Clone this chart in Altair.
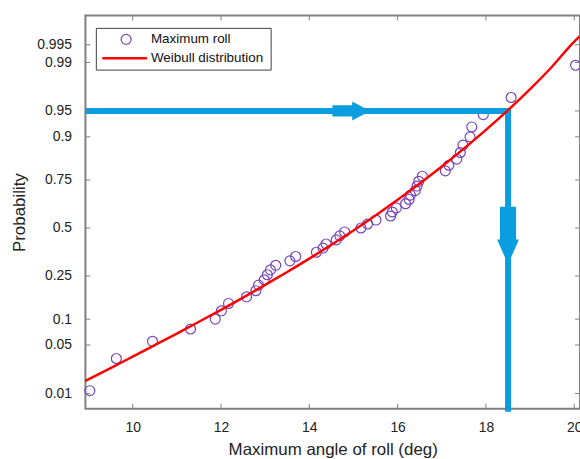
import altair as alt
import pandas as pd
from statistics import NormalDist

# ---- data ----
roll_deg = [9.03, 9.63, 10.45, 11.31, 11.87, 12.01, 12.17, 12.58, 12.79, 12.85,
            12.98, 13.05, 13.12, 13.24, 13.56, 13.69, 14.16, 14.31, 14.38, 14.61,
            14.69, 14.80, 15.17, 15.32, 15.51, 15.84, 15.88, 15.97, 16.18, 16.26,
            16.29, 16.40, 16.44, 16.48, 16.56, 17.08, 17.16, 17.34, 17.42, 17.48,
            17.64, 17.68, 17.94, 18.57, 20.03]
roll_prob = [0.0111, 0.0333, 0.0556, 0.0778, 0.1000, 0.1222, 0.1444, 0.1667, 0.1889, 0.2111,
             0.2333, 0.2556, 0.2778, 0.3000, 0.3222, 0.3444, 0.3667, 0.3889, 0.4111, 0.4333,
             0.4556, 0.4778, 0.5000, 0.5222, 0.5444, 0.5667, 0.5889, 0.6111, 0.6333, 0.6556,
             0.6778, 0.7000, 0.7222, 0.7444, 0.7667, 0.7889, 0.8111, 0.8333, 0.8556, 0.8778,
             0.9000, 0.9222, 0.9444, 0.9667, 0.9889]

fit_deg = [8.93, 9.5, 10, 10.5, 11, 11.5, 12, 12.5, 13, 13.5, 14, 14.5, 15, 15.5,
           16, 16.5, 17, 17.5, 18, 18.5, 19, 19.5, 20, 20.13]
fit_prob = [0.0158, 0.0245, 0.0353, 0.0498, 0.0689, 0.0937, 0.1251, 0.1641, 0.2117, 0.2682,
            0.3333, 0.4067, 0.4864, 0.5699, 0.6537, 0.7338, 0.8062, 0.8676, 0.9160, 0.9512,
            0.9745, 0.9884, 0.9956, 0.9965]

prob_ticks = [0.01, 0.05, 0.1, 0.25, 0.5, 0.75, 0.9, 0.95, 0.99, 0.995]
prob_labels = ["0.01", "0.05", "0.1", "0.25", "0.5", "0.75", "0.9", "0.95", "0.99", "0.995"]
deg_ticks = [10, 12, 14, 16, 18, 20]

marker_deg = 18.5
marker_prob = 0.95
h_arrow = {"deg": 14.95, "prob": 0.95}
v_arrow = {"deg": 18.5, "prob": 0.458}

legend_labels = ["Maximum roll", "Weibull distribution"]

# ---- styling / layout ----
PURPLE = "#7446b8"
RED = "#ff0000"
BLUE = "#0a9ee0"
GRAY = "#808080"
FONT = "Liberation Sans"
W, H = 498, 396
X_DOM = [8.93, 20.13]
Y_DOM = [-2.541, 2.987]

nd = NormalDist()
z_ticks = [nd.inv_cdf(p) for p in prob_ticks]
label_expr = ""
for zv, lab in zip(z_ticks, prob_labels):
    label_expr += f"abs(datum.value - ({zv:.6f})) < 0.0001 ? '{lab}' : "
label_expr += "''"

xs = alt.Scale(domain=X_DOM, nice=False, zero=False)
ys = alt.Scale(domain=Y_DOM, nice=False, zero=False)
X_AX = alt.Axis(values=deg_ticks, format="d", title="Maximum angle of roll (deg)",
                labelPadding=12, titlePadding=7, labelFlush=False, labelOverlap=False)
Y_AX = alt.Axis(values=z_ticks, labelExpr=label_expr, title="Probability",
                labelPadding=14, titlePadding=8, labelOverlap=False, labelFlush=False)


def X(f):
    return alt.X(f, scale=xs, axis=X_AX)


def Y(f):
    return alt.Y(f, scale=ys, axis=Y_AX)


pts_df = pd.DataFrame({"deg": roll_deg, "prob": roll_prob})
fit_df = pd.DataFrame({"deg": fit_deg, "prob": fit_prob})

zcalc = "quantileNormal(datum.prob)"

points = alt.Chart(pts_df).transform_calculate(z=zcalc).mark_point(
    shape="circle", filled=False, size=100, color=PURPLE, strokeWidth=1.2, opacity=1
).encode(x=X("deg:Q"), y=Y("z:Q"))

h_line = alt.Chart(pd.DataFrame({"deg": [X_DOM[0]], "deg2": [marker_deg], "prob": [marker_prob]})
                   ).transform_calculate(z=zcalc).mark_rule(
    color=BLUE, strokeWidth=6, strokeCap="butt"
).encode(x=X("deg:Q"), x2="deg2:Q", y=Y("z:Q"))

v_line = alt.Chart(pd.DataFrame({"deg": [marker_deg], "prob": [marker_prob], "zb": [Y_DOM[0]]})
                   ).transform_calculate(z=zcalc).mark_rule(
    color=BLUE, strokeWidth=6, strokeCap="square"
).encode(x=X("deg:Q"), y=Y("z:Q"), y2="zb:Q")

fit_line = alt.Chart(fit_df).transform_calculate(z=zcalc).mark_line(
    color=RED, strokeWidth=2.5, interpolate="monotone"
).encode(x=X("deg:Q"), y=Y("z:Q"))

h_arrow_mark = alt.Chart(pd.DataFrame([h_arrow])).transform_calculate(z=zcalc).mark_point(
    shape="M-1,-0.3L0.05,-0.3L0.05,-0.5L1,0L0.05,0.5L0.05,0.3L-1,0.3Z",
    filled=True, size=1444, color=BLUE, opacity=1, strokeWidth=0
).encode(x=X("deg:Q"), y=Y("z:Q"))

v_arrow_mark = alt.Chart(pd.DataFrame([v_arrow])).transform_calculate(z=zcalc).mark_point(
    shape="M-0.28,-1L0.28,-1L0.28,0.14L0.38,0.14L0,1L-0.38,0.14L-0.28,0.14Z",
    filled=True, size=3364, color=BLUE, opacity=1, strokeWidth=0
).encode(x=X("deg:Q"), y=Y("z:Q"))

# ticks pointing inward
xt_df = pd.DataFrame({"deg": deg_ticks})
yt_df = pd.DataFrame({"z": z_ticks})
xt_bottom = alt.Chart(xt_df).mark_rule(color=GRAY, strokeWidth=1).encode(
    x=X("deg:Q"), y=alt.value(H), y2=alt.value(H - 5))
xt_top = alt.Chart(xt_df).mark_rule(color=GRAY, strokeWidth=1).encode(
    x=X("deg:Q"), y=alt.value(0), y2=alt.value(5))
yt_left = alt.Chart(yt_df).mark_rule(color=GRAY, strokeWidth=1).encode(
    y=Y("z:Q"), x=alt.value(0), x2=alt.value(5))
yt_right = alt.Chart(yt_df).mark_rule(color=GRAY, strokeWidth=1).encode(
    y=Y("z:Q"), x=alt.value(W - 5), x2=alt.value(W))

# legend box
one = alt.Data(values=[{"k": 1}])
leg_box = alt.Chart(one).mark_rect(fill="white", stroke="#404040", strokeWidth=1).encode(
    x=alt.value(11), x2=alt.value(187), y=alt.value(13), y2=alt.value(55))
leg_pt = alt.Chart(one).mark_point(shape="circle", filled=False, size=100, color=PURPLE,
                                   strokeWidth=1.2, opacity=1).encode(
    x=alt.value(41), y=alt.value(24))
leg_ln = alt.Chart(one).mark_rule(color=RED, strokeWidth=2.5).encode(
    x=alt.value(17), x2=alt.value(62), y=alt.value(43))
leg_t1 = alt.Chart(one).mark_text(align="left", baseline="middle", font=FONT, fontSize=13.5,
                                  color="#111").encode(
    x=alt.value(66), y=alt.value(24), text=alt.value(legend_labels[0]))
leg_t2 = alt.Chart(one).mark_text(align="left", baseline="middle", font=FONT, fontSize=13.5,
                                  color="#111").encode(
    x=alt.value(66), y=alt.value(43), text=alt.value(legend_labels[1]))

chart = alt.layer(
    points, h_line, v_line, fit_line, h_arrow_mark, v_arrow_mark,
    xt_bottom, xt_top, yt_left, yt_right,
    leg_box, leg_pt, leg_ln, leg_t1, leg_t2
).properties(
    width=W, height=H,
    padding={"left": 86, "top": 14, "right": 0, "bottom": 49},
    autosize=alt.AutoSizeParams(type="none"),
    background="white",
).configure_view(
    stroke=GRAY, strokeWidth=2
).configure_axis(
    grid=False, domain=False, ticks=False,
    labelFont=FONT, labelFontSize=14, labelColor="#222222",
    titleFont=FONT, titleFontSize=17, titleFontWeight="normal", titleColor="#222222",
)

chart.save("out.html", embed_options={"renderer": "svg", "actions": False})
